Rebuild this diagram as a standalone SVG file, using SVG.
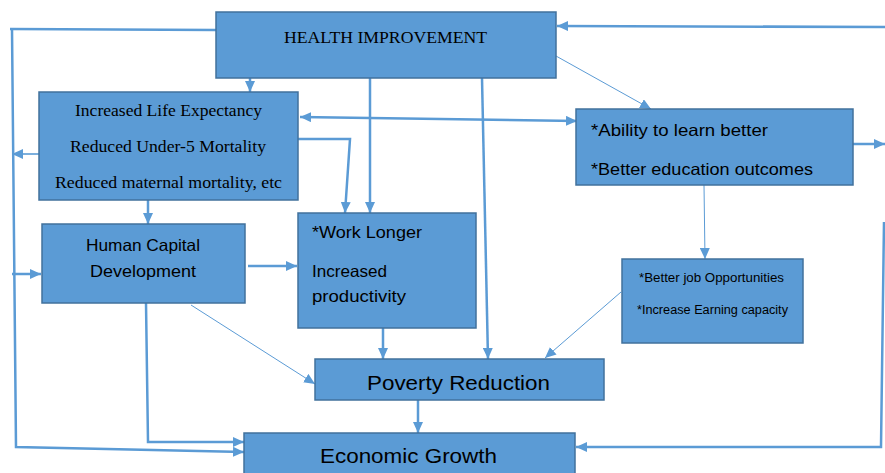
<svg xmlns="http://www.w3.org/2000/svg" width="885" height="473" viewBox="0 0 885 473">
<style>
.box{fill:#5B9BD5;stroke:#41719C;stroke-width:1.5}
.serif{font-family:"Liberation Serif","Times New Roman",serif;fill:#000}
.sans{font-family:"Liberation Sans",Arial,sans-serif;fill:#000}
.c{fill:none;stroke:#5B9BD5;stroke-width:2.5}
.t{fill:none;stroke:#5B9BD5;stroke-width:1}
.m{fill:none;stroke:#5B9BD5;stroke-width:1.6}
</style>
<defs>
<marker id="ah" markerUnits="userSpaceOnUse" markerWidth="11" markerHeight="10" refX="11" refY="5" orient="auto">
<path d="M0,0 L11,5 L0,10 z" fill="#5B9BD5"/>
</marker>
<marker id="as" markerUnits="userSpaceOnUse" markerWidth="11" markerHeight="10" refX="0" refY="5" orient="auto">
<path d="M11,0 L0,5 L11,10 z" fill="#5B9BD5"/>
</marker>
</defs>
<rect width="885" height="473" fill="#fff"/>
<g id="connectors">
<path class="c" d="M216,30 L10,29"/>
<path class="c" d="M12,29 L16,447 L244,452" marker-end="url(#ah)"/>
<path class="m" d="M39,154 L12,154" marker-end="url(#ah)"/>
<path class="c" d="M12,274 L41,274" marker-end="url(#ah)"/>
<path class="c" d="M250,78 L250,92" marker-end="url(#ah)"/>
<path class="c" d="M148,200 L148,224" marker-end="url(#ah)"/>
<path class="c" d="M248,266 L297,266" marker-end="url(#ah)"/>
<path class="c" d="M146,303 L148,442 L244,442" marker-end="url(#ah)"/>
<path class="t" d="M191,305 L315,384" marker-end="url(#ah)"/>
<path class="c" d="M298,139 L350,139 L345,213" marker-end="url(#ah)"/>
<path class="c" d="M370,78 L370,213" marker-end="url(#ah)"/>
<path class="c" d="M482,78 L488,359" marker-end="url(#ah)"/>
<path class="c" d="M300,117 L577,121" marker-start="url(#as)" marker-end="url(#ah)"/>
<path class="t" d="M556,56 L651,109" marker-end="url(#ah)"/>
<path class="c" d="M853,144 L885,144" marker-end="url(#ah)"/>
<path class="c" d="M885,27 L557,26" marker-end="url(#ah)"/>
<path class="t" d="M704,185 L705,259" marker-end="url(#ah)"/>
<path class="t" d="M621,292 L545,358" marker-end="url(#ah)"/>
<path class="c" d="M383,328 L383,359" marker-end="url(#ah)"/>
<path class="c" d="M418,400 L418,433" marker-end="url(#ah)"/>
<path class="c" d="M884,222 L881,447 L576,447" marker-end="url(#ah)"/>
</g>
<g id="health">
<rect class="box" x="216" y="12" width="340" height="66"/>
<text class="serif" x="284" y="43" font-size="17.5" textLength="203" lengthAdjust="spacingAndGlyphs">HEALTH IMPROVEMENT</text>
</g>
<g id="life">
<rect class="box" x="39" y="92" width="259" height="108"/>
<text class="serif" x="75" y="116" font-size="16.5" textLength="187" lengthAdjust="spacingAndGlyphs">Increased Life Expectancy</text>
<text class="serif" x="70" y="152" font-size="16.5" textLength="196" lengthAdjust="spacingAndGlyphs">Reduced Under-5 Mortality</text>
<text class="serif" x="55" y="188" font-size="16.5" textLength="227" lengthAdjust="spacingAndGlyphs">Reduced maternal mortality, etc</text>
</g>
<g id="humancapital">
<rect class="box" x="42" y="224" width="203" height="79"/>
<text class="sans" x="86" y="251" font-size="16.5" textLength="114" lengthAdjust="spacingAndGlyphs">Human Capital</text>
<text class="sans" x="90" y="277" font-size="16.5" textLength="106" lengthAdjust="spacingAndGlyphs">Development</text>
</g>
<g id="worklonger">
<rect class="box" x="298" y="213" width="178" height="115"/>
<text class="sans" x="312" y="238" font-size="16.5" textLength="110" lengthAdjust="spacingAndGlyphs">*Work Longer</text>
<text class="sans" x="312" y="277" font-size="16.5" textLength="75" lengthAdjust="spacingAndGlyphs">Increased</text>
<text class="sans" x="312" y="302" font-size="16.5" textLength="94" lengthAdjust="spacingAndGlyphs">productivity</text>
</g>
<g id="ability">
<rect class="box" x="576" y="109" width="277" height="76"/>
<text class="sans" x="591" y="136" font-size="16.5" textLength="177" lengthAdjust="spacingAndGlyphs">*Ability to learn better</text>
<text class="sans" x="591" y="175" font-size="16.5" textLength="222" lengthAdjust="spacingAndGlyphs">*Better education outcomes</text>
</g>
<g id="betterjob">
<rect class="box" x="622" y="259" width="181" height="84"/>
<text class="sans" x="639" y="282" font-size="12" textLength="145" lengthAdjust="spacingAndGlyphs">*Better job Opportunities</text>
<text class="sans" x="637" y="314" font-size="12" textLength="151" lengthAdjust="spacingAndGlyphs">*Increase Earning capacity</text>
</g>
<g id="poverty">
<rect class="box" x="315" y="359" width="289" height="41"/>
<text class="sans" x="367" y="390" font-size="21" textLength="183" lengthAdjust="spacingAndGlyphs">Poverty Reduction</text>
</g>
<g id="economic">
<rect class="box" x="244" y="433" width="331" height="45"/>
<text class="sans" x="320" y="463" font-size="21" textLength="177" lengthAdjust="spacingAndGlyphs">Economic Growth</text>
</g>
</svg>
